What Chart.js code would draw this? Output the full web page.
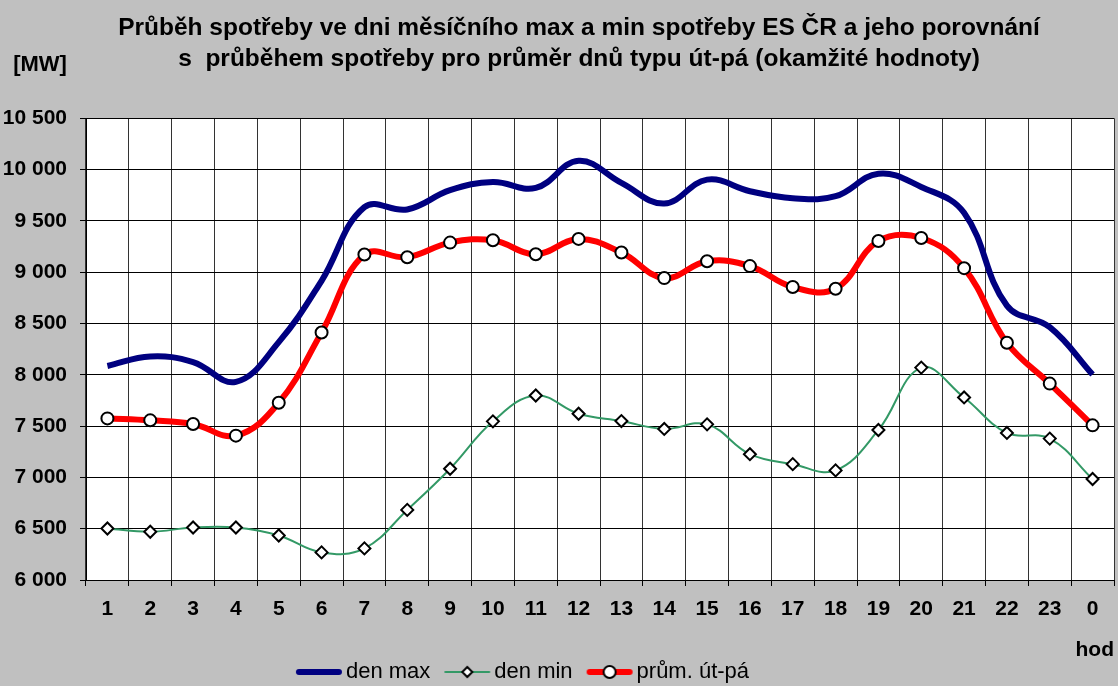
<!DOCTYPE html>
<html>
<head>
<meta charset="utf-8">
<script src="https://cdn.jsdelivr.net/npm/chart.js@4/dist/chart.umd.min.js"></script>
<style>
  body { margin: 0; background: #C0C0C0; }
  canvas { display: block; }
</style>
</head>
<body>
<canvas id="spotreba" width="1118" height="686"></canvas>
<script>
// hodiny dne (osa x)
const hodiny = ['1','2','3','4','5','6','7','8','9','10','11','12','13','14','15','16','17','18','19','20','21','22','23','0'];

// den mesicniho maxima [MW]
const denMax = [8086, 8179, 8124, 7931, 8318, 8916, 9634, 9611, 9799, 9879, 9821, 10086,
                9870, 9669, 9902, 9789, 9721, 9740, 9960, 9831, 9579, 8674, 8464, 8002];

// den mesicniho minima [MW]
const denMin = [6502, 6470, 6512, 6512, 6434, 6269, 6308, 6683, 7084, 7546, 7798, 7620,
                7549, 7472, 7517, 7226, 7129, 7068, 7462, 8070, 7779, 7433, 7378, 6984];

// prumer dnu ut-pa [MW]
const prumUtPa = [7575, 7556, 7520, 7407, 7727, 8412, 9172, 9146, 9288, 9311, 9175, 9324,
                  9191, 8942, 9107, 9059, 8855, 8839, 9304, 9333, 9039, 8312, 7914, 7507];

const osaYMin = 6000;
const osaYMax = 10500;
const osaYKrok = 500;

const FONT = "'Liberation Sans', Arial, sans-serif";

// cislo s mezerou jako oddelovacem tisicu
function formatMW(v) {
    return String(v).replace(/\B(?=(\d{3})+(?!\d))/g, ' ');
}

// ikonka do legendy: cara + znacka (kreslena v prave casti platna)
function legendIcon(color, lineWidth, marker, radius) {
    const c = document.createElement('canvas');
    c.width = 58;
    c.height = 18;
    const g = c.getContext('2d');
    const x0 = 10, x1 = 58, cx = 34;
    g.strokeStyle = color;
    g.lineWidth = lineWidth;
    g.lineCap = 'round';
    g.beginPath();
    g.moveTo(x0 + lineWidth / 2 + 1, 9);
    g.lineTo(x1 - lineWidth / 2 - 1, 9);
    g.stroke();
    if (marker === 'circle') {
        g.fillStyle = '#fff';
        g.strokeStyle = '#000';
        g.lineWidth = 2;
        g.beginPath();
        g.arc(cx, 9, radius, 0, Math.PI * 2);
        g.fill();
        g.stroke();
    } else if (marker === 'diamond') {
        g.fillStyle = '#fff';
        g.strokeStyle = '#000';
        g.lineWidth = 2;
        g.beginPath();
        g.moveTo(cx, 9 - radius);
        g.lineTo(cx + radius, 9);
        g.lineTo(cx, 9 + radius);
        g.lineTo(cx - radius, 9);
        g.closePath();
        g.fill();
        g.stroke();
    }
    return c;
}

// pozadi grafu sede, plocha grafu bila
const pozadiPlugin = {
    id: 'pozadi',
    beforeDraw(chart) {
        const ctx = chart.ctx;
        const a = chart.chartArea;
        ctx.save();
        ctx.fillStyle = '#C0C0C0';
        ctx.fillRect(0, 0, chart.width, chart.height);
        ctx.fillStyle = '#FFFFFF';
        ctx.fillRect(a.left, a.top, a.right - a.left, a.bottom - a.top);
        ctx.restore();
    }
};

// popisek jednotky [MW] nad osou y
const jednotkaPlugin = {
    id: 'jednotka',
    afterDraw(chart) {
        const ctx = chart.ctx;
        ctx.save();
        ctx.font = 'bold 22px ' + FONT;
        ctx.fillStyle = '#000';
        ctx.textAlign = 'center';
        ctx.textBaseline = 'middle';
        ctx.fillText('[MW]', 40, 65);
        ctx.restore();
    }
};

// nadpis a legenda v Excelu nejsou presne uprostred
const posunPlugin = {
    id: 'posun',
    afterLayout(chart) {
        chart.legend.left -= 36;
        chart.legend.right -= 36;
        chart.legend.top += 7;
        chart.legend.bottom += 7;
        chart.titleBlock.left += 22;
        chart.titleBlock.right += 22;
    }
};

const ikony = [
    legendIcon('#000080', 6, null, 0),
    legendIcon('#339966', 2, 'diamond', 5),
    legendIcon('#FF0000', 6, 'circle', 6)
];

const ctx = document.getElementById('spotreba').getContext('2d');

new Chart(ctx, {
    type: 'line',
    data: {
        labels: hodiny,
        datasets: [{
            label: 'den max',
            data: denMax,
            borderColor: '#000080',
            borderWidth: 6,
            pointRadius: 0,
            tension: 0.4,
            order: 3
        }, {
            label: 'den min',
            data: denMin,
            borderColor: '#339966',
            borderWidth: 2,
            pointStyle: 'rectRot',
            pointRadius: 6,
            pointBackgroundColor: '#FFFFFF',
            pointBorderColor: '#000000',
            pointBorderWidth: 2,
            tension: 0.4,
            order: 2
        }, {
            label: 'prům. út-pá',
            data: prumUtPa,
            borderColor: '#FF0000',
            borderWidth: 6,
            pointStyle: 'circle',
            pointRadius: 6,
            pointBackgroundColor: '#FFFFFF',
            pointBorderColor: '#000000',
            pointBorderWidth: 2,
            tension: 0.4,
            order: 1
        }]
    },
    options: {
        responsive: false,
        animation: false,
        layout: {
            autoPadding: false,
            padding: { left: 0, right: 4, top: 0, bottom: 0 }
        },
        scales: {
            x: {
                offset: true,
                afterFit(scale) {
                    scale.height = 63;
                    scale.paddingLeft = 0;
                    scale.paddingRight = 0;
                },
                grid: {
                    offset: true,
                    color: '#333333',
                    lineWidth: 1,
                    tickLength: 6,
                    tickColor: '#000000'
                },
                border: { color: '#000000', width: 1 },
                ticks: {
                    color: '#000000',
                    padding: 11,
                    maxRotation: 0,
                    autoSkip: false,
                    font: { family: FONT, size: 21, weight: 'bold' }
                },
                title: {
                    display: true,
                    text: 'hod',
                    align: 'end',
                    color: '#000000',
                    padding: { top: 0, bottom: -20 },
                    font: { family: FONT, size: 21, weight: 'bold' }
                }
            },
            y: {
                min: osaYMin,
                max: osaYMax,
                afterFit(scale) {
                    scale.width = 86;
                },
                grid: {
                    color: '#000000',
                    lineWidth: 1,
                    tickLength: 6,
                    tickColor: '#000000'
                },
                border: { color: '#000000', width: 1 },
                ticks: {
                    stepSize: osaYKrok,
                    color: '#000000',
                    padding: 13,
                    font: { family: FONT, size: 21, weight: 'bold' },
                    callback: v => formatMW(v)
                }
            }
        },
        plugins: {
            title: {
                display: true,
                text: ['Průběh spotřeby ve dni měsíčního max a min spotřeby ES ČR a jeho porovnání',
                       's  průběhem spotřeby pro průměr dnů typu út-pá (okamžité hodnoty)'],
                color: '#000000',
                font: { family: FONT, size: 24.5, weight: 'bold', lineHeight: 1.25 },
                padding: { top: 13, bottom: 44 }
            },
            legend: {
                position: 'bottom',
                labels: {
                    usePointStyle: true,
                    pointStyleWidth: 42,
                    padding: 11,
                    color: '#000000',
                    font: { family: FONT, size: 22 },
                    generateLabels(chart) {
                        return chart.data.datasets.map((ds, i) => ({
                            text: ds.label,
                            pointStyle: ikony[i],
                            fillStyle: ds.borderColor,
                            strokeStyle: ds.borderColor,
                            lineWidth: 0,
                            hidden: false,
                            datasetIndex: i,
                            fontColor: '#000000'
                        }));
                    }
                }
            },
            tooltip: { enabled: false }
        }
    },
    plugins: [pozadiPlugin, jednotkaPlugin, posunPlugin]
});
</script>
</body>
</html>
